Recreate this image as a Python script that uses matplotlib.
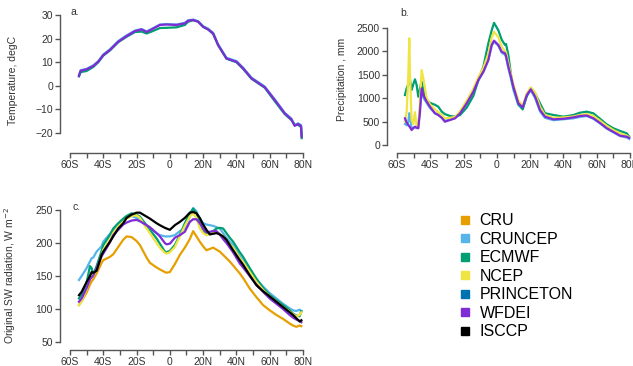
import numpy as np
import matplotlib.pyplot as plt
from matplotlib.lines import Line2D

plt.rcParams['font.family'] = ['Liberation Sans', 'DejaVu Sans']

# colours per dataset
names = ["CRU", "CRUNCEP", "ECMWF", "NCEP", "PRINCETON", "WFDEI", "ISCCP"]
colors = ["#E69F00", "#56B4E9", "#009E73", "#F0E442", "#0072B2", "#7F2BD6", "#000000"]
col = dict(zip(names, colors))

# --- panel a: temperature (degC)
lat_a = [-54.6, -53.6, -50, -46, -43, -40, -36, -31, -26, -21, -17, -14, -11, -6, -2, 4, 9, 11,
         14, 17, 20, 23, 26, 29, 34, 40, 44, 49, 57, 63, 69, 73, 75, 77, 78.8, 79.2]
t_wfdei = [4.2, 6.4, 7.0, 8.4, 10.2, 13.0, 15.2, 18.7, 21.1, 23.2, 23.9, 22.8, 23.9, 25.8, 26.0, 25.8,
           26.5, 27.6, 27.9, 27.2, 25.0, 23.9, 22.2, 17.3, 11.6, 10.2, 7.4, 3.2, -0.6, -6.0, -11.7,
           -14.2, -17.0, -16.2, -17.0, -21.6]
t_ecmwf = [4.0, 5.8, 6.3, 8.0, 10.0, 12.8, 15.0, 18.5, 20.8, 22.8, 23.0, 22.2, 23.0, 24.5, 24.6, 24.8,
           25.8, 27.2, 27.8, 27.2, 25.0, 23.9, 22.0, 17.2, 11.5, 10.0, 7.2, 3.0, -0.8, -6.5, -12.0,
           -14.5, -16.6, -16.5, -17.5, -22.2]
t_cruncep = [4.5, 6.6, 7.2, 8.7, 10.5, 13.3, 15.5, 19.0, 21.4, 23.4, 24.1, 23.1, 24.1, 26.0, 26.2, 26.0,
             26.7, 27.8, 28.1, 27.4, 25.3, 24.2, 22.5, 17.6, 11.9, 10.5, 7.7, 3.5, -0.3, -5.7, -11.4,
             -13.9, -16.7, -15.9, -16.7, -21.0]

# --- panel b: precipitation (mm)
lat_b = [-55.2, -54.2, -53.2, -52.6, -52.2, -51.2, -50.2, -49.2, -48.2, -47.2, -46.2, -45.2, -44, -42.2,
         -40.2, -37.2, -35.2, -33.1, -31.2, -28.2, -25.1, -22.1, -18.1, -14.1, -11.1, -8.1, -5.1, -3.1,
         -1.7, 0.9, 2.9, 4.9, 5.5, 6.9, 8.9, 9.9, 12.9, 15.5, 18, 20.4, 23, 25.9, 28.9, 34, 40, 46, 50,
         54, 58, 62, 66, 70, 74, 78, 79.5]
p_cruncep = [450, 420, 500, 680, 600, 350, 370, 380, 360, 380, 800, 1150, 1000, 900, 790, 680, 650, 590,
             520, 540, 580, 690, 900, 1150, 1380, 1560, 1820, 2120, 2210, 2120, 1970, 1930, 1880, 1640,
             1350, 1180, 850, 780, 1050, 1170, 1000, 720, 580, 530, 550, 570, 600, 620, 560, 460, 350,
             270, 190, 160, 130]
p_ecmwf = [1068, 1211, 1300, 1350, 1389, 1175, 1300, 1403, 1282, 1032, 1200, 1353, 1150, 962, 900, 860,
           818, 712, 660, 620, 605, 640, 800, 1050, 1389, 1673, 2173, 2450, 2610, 2450, 2250, 2137, 2158,
           1923, 1389, 1250, 880, 760, 1050, 1220, 1100, 891, 680, 641, 605, 641, 690, 712, 677, 560,
           440, 357, 300, 250, 177]
p_ncep = [500, 700, 1500, 2280, 1500, 534, 450, 700, 400, 380, 900, 1602, 1389, 1000, 870, 760, 700, 640,
          570, 580, 600, 720, 950, 1200, 1450, 1650, 1950, 2300, 2420, 2300, 2100, 2000, 1980, 1750, 1450,
          1300, 950, 830, 1100, 1230, 1120, 820, 640, 580, 590, 610, 640, 660, 620, 520, 410, 320, 250,
          200, 160]
p_wfdei = [570, 480, 427, 400, 380, 320, 360, 391, 370, 357, 700, 1211, 1050, 930, 818, 677, 640, 580,
           498, 534, 570, 677, 891, 1139, 1389, 1566, 1816, 2137, 2229, 2137, 1994, 1958, 1900, 1673, 1400,
           1247, 891, 805, 1068, 1190, 1032, 748, 605, 549, 560, 590, 620, 630, 570, 470, 360, 280, 200,
           177, 150]

# --- panel c: SW radiation (W m-2)
lat_c = [-54.6, -53, -50, -48, -47, -46, -44, -41, -40, -36, -34, -31, -28, -26, -23, -20, -18, -14, -12,
         -8, -6, -3, -2, 0, 3, 6, 9, 12, 14, 16, 18, 20, 22, 24, 26, 28, 30, 32, 34, 36, 38, 42, 44, 48,
         52, 56, 60, 64, 68, 72, 74, 76, 78, 79]
sw_cru = [106, 112, 125, 137, 142, 145, 154, 170, 174, 179, 183, 194, 205, 210, 209, 203, 197, 178, 170,
          163, 160, 156, 155, 156, 168, 182, 193, 206, 218, 210, 202, 195, 189, 191, 193, 190, 187, 182,
          177, 172, 166, 154, 147, 131, 118, 106, 98, 91, 85, 78, 75, 73, 75, 74]
sw_cruncep = [144, 150, 162, 172, 177, 178, 187, 195, 202, 214, 220, 228, 235, 238, 241, 238, 235, 226,
              222, 215, 212, 210, 210, 210, 212, 218, 222, 240, 253, 248, 236, 230, 228, 227, 226, 224,
              222, 215, 208, 202, 196, 180, 173, 158, 145, 134, 124, 116, 108, 101, 98, 97, 99, 96]
sw_ecmwf = [116, 122, 140, 165, 162, 152, 165, 188, 197, 212, 222, 230, 237, 241, 245, 243, 240, 227, 220,
            207, 199, 187, 186, 188, 197, 212, 230, 245, 252, 245, 232, 220, 212, 215, 218, 222, 223,
            222, 215, 208, 202, 186, 179, 162, 146, 132, 121, 113, 106, 98, 93, 90, 89, 97]
sw_ncep = [106, 112, 130, 148, 152, 150, 160, 180, 190, 205, 215, 225, 232, 237, 241, 242, 238, 222, 215,
           200, 193, 185, 184, 186, 194, 210, 226, 240, 245, 238, 222, 215, 212, 214, 216, 217, 214, 210,
           204, 198, 193, 177, 171, 156, 141, 129, 119, 111, 103, 96, 92, 89, 91, 95]
sw_wfdei = [111, 116, 132, 145, 148, 151, 162, 180, 184, 201, 212, 220, 228, 231, 234, 235, 233, 227, 224,
            215, 210, 200, 198, 199, 208, 212, 217, 232, 236, 236, 230, 222, 216, 217, 218, 218, 213, 206,
            200, 193, 186, 169, 163, 150, 137, 126, 116, 108, 100, 91, 87, 84, 82, 80]
sw_isccp = [121, 126, 141, 150, 156, 155, 158, 182, 187, 202, 210, 222, 230, 238, 243, 246, 246, 240, 237,
            230, 227, 223, 222, 220, 227, 232, 238, 246, 247, 245, 238, 228, 220, 213, 214, 215, 213, 210,
            205, 197, 189, 174, 167, 151, 136, 127, 119, 111, 103, 95, 91, 86, 81, 83]

W, H = 633, 366
fig = plt.figure(figsize=(W / 100, H / 100), dpi=100)


def make_ax(l, r, t, b):
    return fig.add_axes([l / W, (H - b) / H, (r - l) / W, (b - t) / H])


def style(ax, ybounds, yticks):
    for s in ["top", "right"]:
        ax.spines[s].set_visible(False)
    ax.spines["left"].set_bounds(*ybounds)
    ax.spines["bottom"].set_bounds(-60, 80)
    for s in ["left", "bottom"]:
        ax.spines[s].set_color("#555555")
        ax.spines[s].set_linewidth(1.0)
    ax.set_xticks(range(-60, 81, 20))
    ax.set_xticks(range(-50, 81, 20), minor=True)
    ax.set_xticklabels(["60S", "40S", "20S", "0", "20N", "40N", "60N", "80N"])
    ax.set_yticks(yticks)
    ax.tick_params(which="both", length=3.5, width=1.0, color="#555555", labelsize=7.5,
                   labelcolor="#333333", pad=1.5)
    ax.patch.set_visible(False)


lw = 1.6

# panel a
axa = make_ax(60, 312, 8, 153)
axa.plot(lat_a, t_cruncep, color=col["CRUNCEP"], lw=lw)
axa.plot(lat_a, t_ecmwf, color=col["ECMWF"], lw=lw)
axa.plot(lat_a, t_wfdei, color=col["WFDEI"], lw=lw)
axa.set_xlim(-66.0, 85.4)
axa.set_ylim(-28.5, 33.0)
style(axa, (-20, 30), range(-20, 31, 10))
axa.set_ylabel("Temperature, degC", fontsize=7.5, color="#333333")
axa.yaxis.set_label_coords(-0.167, 0.5)
axa.text(0.04, 0.95, "a.", transform=axa.transAxes, fontsize=7.5, color="#333333")

# panel b
axb = make_ax(387, 645, 8, 153)
axb.plot(lat_b, p_cruncep, color=col["CRUNCEP"], lw=lw)
axb.plot(lat_b, p_ecmwf, color=col["ECMWF"], lw=lw)
axb.plot(lat_b, p_ncep, color=col["NCEP"], lw=lw)
axb.plot(lat_b, p_wfdei, color=col["WFDEI"], lw=lw)
axb.set_xlim(-66.0, 89.0)
axb.set_ylim(-171, 2927)
style(axb, (0, 2500), range(0, 2501, 500))
axb.set_ylabel("Precipitation , mm", fontsize=7.5, color="#333333")
axb.yaxis.set_label_coords(-0.155, 0.51)
axb.text(0.05, 0.945, "b.", transform=axb.transAxes, fontsize=7.5, color="#333333")

# panel c
axc = make_ax(60, 312, 198, 350)
axc.plot(lat_c, sw_cru, color=col["CRU"], lw=lw)
axc.plot(lat_c, sw_cruncep, color=col["CRUNCEP"], lw=lw)
axc.plot(lat_c, sw_ecmwf, color=col["ECMWF"], lw=lw)
axc.plot(lat_c, sw_ncep, color=col["NCEP"], lw=lw)
axc.plot(lat_c, sw_wfdei, color=col["WFDEI"], lw=lw)
axc.plot(lat_c, sw_isccp, color=col["ISCCP"], lw=lw)
axc.set_xlim(-66.0, 85.4)
axc.set_ylim(37.9, 268.2)
style(axc, (50, 250), range(50, 251, 50))
axc.set_ylabel("Original SW radiation, W m$^{-2}$", fontsize=7.5, color="#333333")
axc.yaxis.set_label_coords(-0.167, 0.49)
axc.text(0.048, 0.92, "c.", transform=axc.transAxes, fontsize=7.5, color="#333333")

# legend
handles = [Line2D([], [], marker="s", ls="", color=c, markersize=6) for c in colors]
fig.legend(handles, names, loc="upper left", bbox_to_anchor=(451 / W, 1 - 207 / H),
           frameon=False, fontsize=11.5, labelspacing=0.22, handletextpad=0.4,
           borderaxespad=0, handlelength=1.0)

fig.savefig("out.png", dpi=100)
